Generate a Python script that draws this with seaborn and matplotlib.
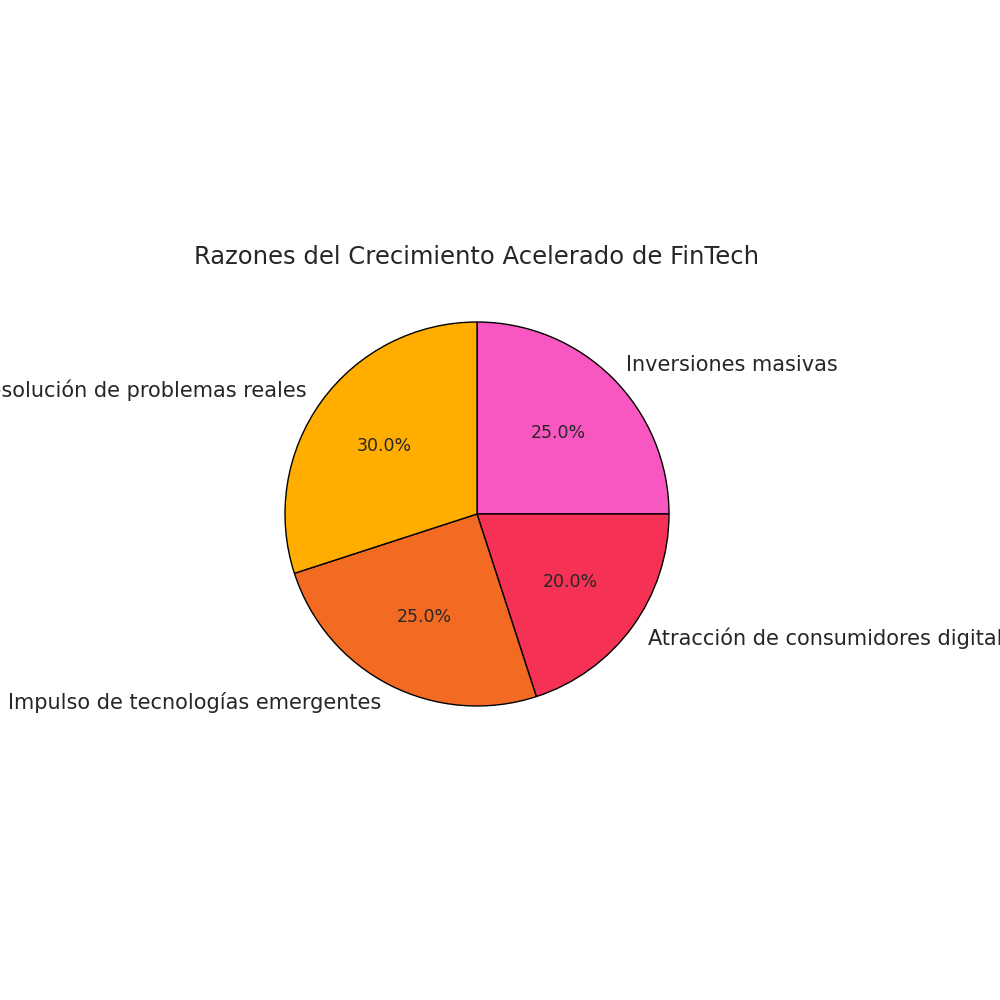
import matplotlib
matplotlib.use("Agg")
import matplotlib.pyplot as plt
import seaborn as sns

# Data
categories = ['Inversiones masivas', 'Atracción de consumidores digitales',
              'Impulso de tecnologías emergentes', 'Resolución de problemas reales']
shares = [25, 20, 25, 30]

colors = ["#F857C1", "#F53156", "#F36B22", "#FFAE00"]

sns.set_theme(style="white")
plt.rcParams['font.family'] = ['DejaVu Sans']

fig = plt.figure(figsize=(8, 8), dpi=125)
ax = fig.add_axes([0.237, 0.246, 0.48, 0.48])

ax.pie(shares, labels=categories, colors=colors, autopct='%1.1f%%',
       startangle=90, counterclock=False,
       wedgeprops={'edgecolor': 'black', 'linewidth': 0.8},
       textprops={'fontsize': 12})
for t in ax.texts:
    if t.get_text().endswith('%'):
        t.set_fontsize(10)

ax.set_title('Razones del Crecimiento Acelerado de FinTech', fontsize=14)
ax.set_aspect('equal')

fig.savefig("out.png", dpi=125, facecolor='white')
